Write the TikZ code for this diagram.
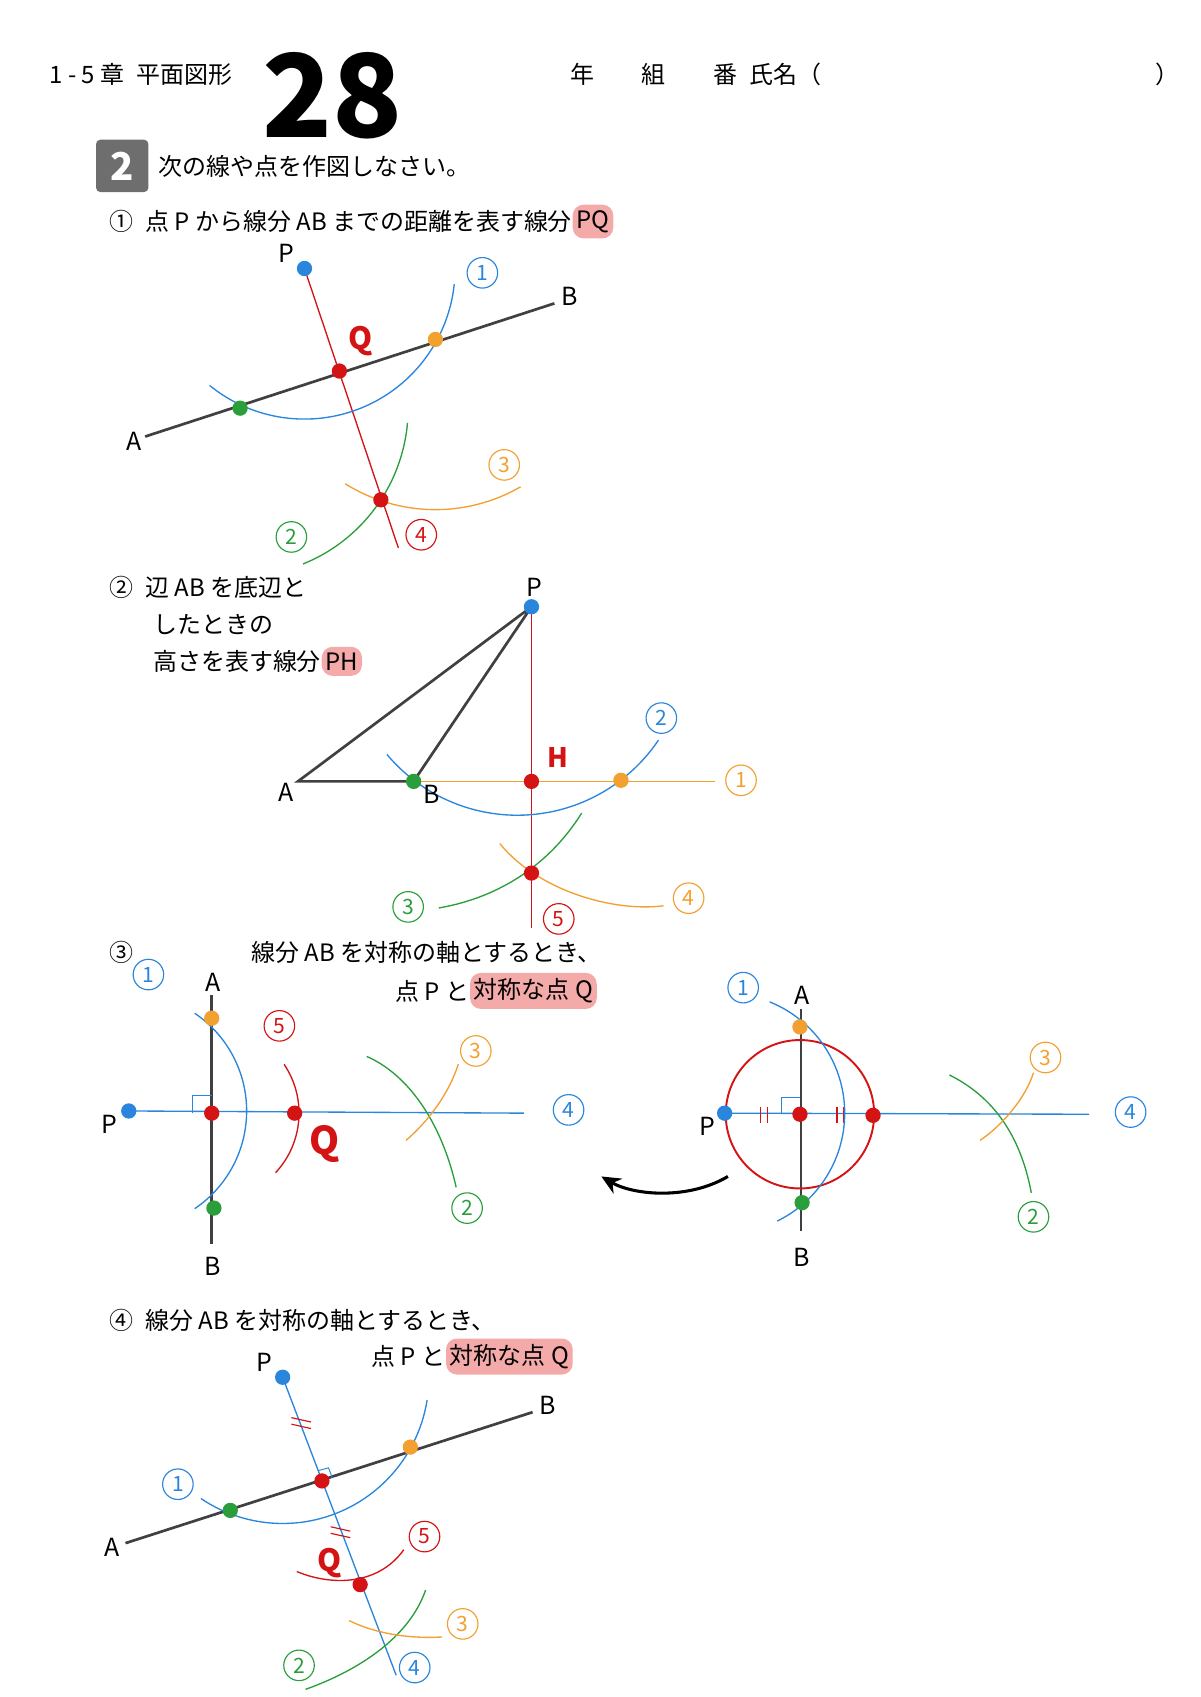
\documentclass[tikz,border=0pt]{standalone}
\usepackage{fontspec}
\setmainfont{Noto Sans CJK JP}
\usetikzlibrary{arrows.meta,calc}
\definecolor{cblue}{HTML}{2A86DC}
\definecolor{corange}{HTML}{F2A030}
\definecolor{cgreen}{HTML}{2A9E3A}
\definecolor{cred}{HTML}{D41414}
\definecolor{hilite}{HTML}{F5AAAA}
\definecolor{boxgray}{HTML}{6E6E6E}
\tikzset{
  txt/.style={anchor=west,inner sep=0pt,font=\fontsize{12.5}{14}\selectfont},
  hl/.style={txt,fill=hilite,rounded corners=0.2cm,inner xsep=2pt,inner ysep=3pt},
  pt/.style={anchor=center,font=\fontsize{13}{14}\selectfont,inner sep=0pt},
  lbl/.style={circle,draw,inner sep=0pt,minimum size=0.56cm,line width=0.6pt,font=\fontsize{11}{12}\selectfont},
  seg/.style={line width=1.4pt,draw=black!75},
  arcs/.style={line width=0.7pt},
}
\newcommand{\dotat}[2]{\fill[#1] (#2) circle (7);}
\begin{document}
\begin{tikzpicture}[x=0.02cm,y=-0.02cm]
\useasboundingbox (0,0) rectangle (1100,1555);
% header
\node[txt] (hd) at (45,68) {1 - 5 章\enspace 平面図形};
\node[pt,font=\fontsize{60}{60}\selectfont\bfseries] (num) at (305,88) {28};
\node[txt] (nm) at (522,68) {年\qquad 組\qquad 番\enspace 氏名（};
\node[txt] (nmr) at (1058,68) {）};
\fill[boxgray,rounded corners=0.08cm] (88,128) rectangle (136,176);
\node[pt,white,font=\fontsize{20}{20}\selectfont\bfseries] (q2) at (112,152) {2};
\node[txt] (inst) at (145,152) {次の線や点を作図しなさい。};
% (1)
\node[txt] (t1) at (100,203) {①\enspace 点 P から線分 AB までの距離を表す線分};
\node[hl] (t1h) at (t1.east) {PQ};
\coordinate (A1) at (133,400); \coordinate (B1) at (508,278);
\coordinate (P1) at (279,246); \coordinate (Q1) at (311,340);
\coordinate (G1) at (220,374); \coordinate (O1) at (399,311);
\coordinate (R1) at (349,458); \coordinate (E1) at (365,502);
\draw[seg] (A1) -- (B1);
\draw[cred,arcs] (P1) -- (E1);
\draw[cblue,arcs] (P1) ++(129:138) arc (129:6:138);
\draw[cgreen,arcs] (G1) ++(5:154) arc (5:68:154);
\draw[corange,arcs] (O1) ++(122:156) arc (122:60:156);
\dotat{cblue}{P1}\dotat{cgreen}{G1}\dotat{corange}{O1}\dotat{cred}{Q1}\dotat{cred}{R1}
\node[pt] at (123,404) {A}; \node[pt] at (522,272) {B}; \node[pt] at (262,232) {P};
\node[pt,cred,font=\fontsize{16}{16}\selectfont\bfseries] at (330,313) {Q};
\node[lbl,cblue] at (442,250) {1}; \node[lbl,corange] at (462,426) {3};
\node[lbl,cgreen] at (267,492) {2}; \node[lbl,cred] at (386,490) {4};
% (2)
\node[txt] (t2a) at (100,538) {②\enspace 辺 AB を底辺と};
\node[txt] (t2b) at (140,572) {したときの};
\node[txt] (t2c) at (140,606) {高さを表す線分};
\node[hl] (t2h) at (t2c.east) {PH};
\coordinate (A2) at (273,716); \coordinate (B2) at (379,716);
\coordinate (P2) at (487,556); \coordinate (H2) at (487,716);
\coordinate (O2) at (569,715); \coordinate (L2) at (655,716);
\coordinate (R2) at (487,800); \coordinate (E2) at (487,850);
\draw[corange,arcs] (B2) -- (L2);
\draw[cred,arcs] (P2) -- (E2);
\draw[seg] (A2) -- (B2) -- (P2) -- cycle;
\draw[cblue,arcs] (474,591) ++(140:156) arc (140:34:156);
\draw[cgreen,arcs] (533,745) .. controls (505,790) and (460,822) .. (402,832);
\draw[corange,arcs] (458,773) .. controls (492,815) and (560,836) .. (608,830);
\dotat{cblue}{P2}\dotat{cgreen}{B2}\dotat{corange}{O2}\dotat{cred}{H2}\dotat{cred}{R2}
\node[pt] at (262,726) {A}; \node[pt] at (396,728) {B}; \node[pt] at (490,538) {P};
\node[pt,cred,font=\fontsize{14}{14}\selectfont\bfseries] at (511,694) {H};
\node[lbl,cblue] at (606,658) {2}; \node[lbl,corange] at (679,715) {1};
\node[lbl,cgreen] at (374,831) {3}; \node[lbl,corange] at (631,823) {4};
\node[lbl,cred] at (512,842) {5};
% (3)
\node[txt] (t3a) at (100,873) {③};
\node[txt] (t3b) at (230,873) {線分 AB を対称の軸とするとき、};
\node[txt] (t3c) at (362,908) {点 P と};
\node[hl] (t3h) at (t3c.east) {対称な点 Q};
\coordinate (At) at (194,912); \coordinate (Bb) at (194,1140);
\coordinate (P3) at (118,1018); \coordinate (F3) at (194,1020);
\coordinate (E3) at (480,1020); \coordinate (Q3) at (270,1020);
\coordinate (O3) at (194,933); \coordinate (G3) at (196,1107);
\draw[cblue,arcs] (P3) -- (E3);
\draw[seg] (At) -- (Bb);
\draw[cblue,line width=0.5pt] (176,1020) -- (176,1004) -- (194,1004);
\draw[cblue,arcs] (P3) ++(-56:108) arc (-56:56:108);
\draw[cred,arcs] (F3) ++(-34:80) arc (-34:43:80);
\draw[cgreen,arcs] (336,968) .. controls (375,985) and (405,1030) .. (418,1088);
\draw[corange,arcs] (372,1045) .. controls (395,1025) and (412,1000) .. (420,975);
\dotat{cblue}{P3}\dotat{corange}{O3}\dotat{cgreen}{G3}\dotat{cred}{F3}\dotat{cred}{Q3}
\node[pt] at (195,900) {A}; \node[pt] at (195,1160) {B}; \node[pt] at (100,1030) {P};
\node[pt,cred,font=\fontsize{20}{20}\selectfont\bfseries] at (297,1048) {Q};
\node[lbl,cblue] at (136,893) {1}; \node[lbl,cred] at (256,940) {5};
\node[lbl,corange] at (436,963) {3}; \node[lbl,cblue] at (521,1017) {4};
\node[lbl,cgreen] at (428,1107) {2};
\draw[line width=1.6pt,-{Stealth[length=10pt,width=9pt]}] (667,1078) .. controls (630,1100) and (580,1095) .. (551,1078);
% (3) right
\coordinate (Ar) at (734,925); \coordinate (Br) at (734,1128);
\coordinate (Pr) at (664,1020); \coordinate (Fr) at (733,1021);
\coordinate (Er) at (998,1021); \coordinate (Qr) at (800,1022);
\coordinate (Or) at (733,941); \coordinate (Gr) at (735,1102);
\draw[cblue,arcs] (Pr) -- (Er);
\draw[seg] (Ar) -- (Br);
\draw[cred,line width=1pt] (Fr) circle (68);
\draw[cblue,line width=0.5pt] (716,1021) -- (716,1006) -- (733,1006);
\foreach \x in {697,703,767,773} \draw[cred,line width=0.6pt] (\x,1014) -- (\x,1029);
\draw[cblue,arcs] (Pr) ++(-68:110) arc (-68:64:110);
\draw[cgreen,arcs] (870,985) .. controls (910,1005) and (935,1040) .. (945,1093);
\draw[corange,arcs] (898,1045) .. controls (920,1030) and (940,1005) .. (947,983);
\dotat{cblue}{Pr}\dotat{corange}{Or}\dotat{cgreen}{Gr}\dotat{cred}{Fr}\dotat{cred}{Qr}
\node[pt] at (735,912) {A}; \node[pt] at (735,1152) {B}; \node[pt] at (648,1032) {P};
\node[lbl,cblue] at (681,905) {1}; \node[lbl,corange] at (958,969) {3};
\node[lbl,cblue] at (1036,1019) {4}; \node[lbl,cgreen] at (947,1115) {2};
% (4)
\node[txt] (t4a) at (100,1210) {④\enspace 線分 AB を対称の軸とするとき、};
\node[txt] (t4b) at (340,1243) {点 P と};
\node[hl] (t4h) at (t4b.east) {対称な点 Q};
\coordinate (A4) at (115,1414); \coordinate (B4) at (488,1294);
\coordinate (P4) at (259,1262); \coordinate (F4) at (295,1357);
\coordinate (Q4) at (330,1452); \coordinate (E4) at (363,1535);
\coordinate (G4) at (211,1384); \coordinate (O4) at (376,1326);
\draw[cblue,arcs] (P4) -- (E4);
\draw[seg] (A4) -- (B4);
\draw[cblue,line width=0.5pt] (304.5,1354) -- (301,1345) -- (291.5,1347.6);
\draw[cblue,arcs] (P4) ++(124:134) arc (124:9:134);
\draw[cred,arcs] (272,1440) .. controls (300,1452) and (345,1455) .. (370,1420);
\draw[cgreen,arcs] (390,1457) .. controls (375,1500) and (330,1530) .. (280,1548);
\draw[corange,arcs] (320,1485) .. controls (340,1495) and (370,1502) .. (405,1500);
\foreach \d in {-3,3} {
  \draw[cred,line width=0.6pt] ($(276,1304)+(-9,{\d-2})$) -- ($(276,1304)+(9,{\d+2})$);
  \draw[cred,line width=0.6pt] ($(312,1404)+(-9,{\d-2})$) -- ($(312,1404)+(9,{\d+2})$);
}
\dotat{cblue}{P4}\dotat{cgreen}{G4}\dotat{corange}{O4}\dotat{cred}{F4}\dotat{cred}{Q4}
\node[pt] at (103,1418) {A}; \node[pt] at (502,1288) {B}; \node[pt] at (242,1248) {P};
\node[pt,cred,font=\fontsize{16}{16}\selectfont\bfseries] at (302,1432) {Q};
\node[lbl,cblue] at (163,1360) {1}; \node[lbl,cred] at (389,1408) {5};
\node[lbl,corange] at (424,1488) {3}; \node[lbl,cgreen] at (274,1526) {2};
\node[lbl,cblue] at (380,1528) {4};
\end{tikzpicture}
\end{document}
